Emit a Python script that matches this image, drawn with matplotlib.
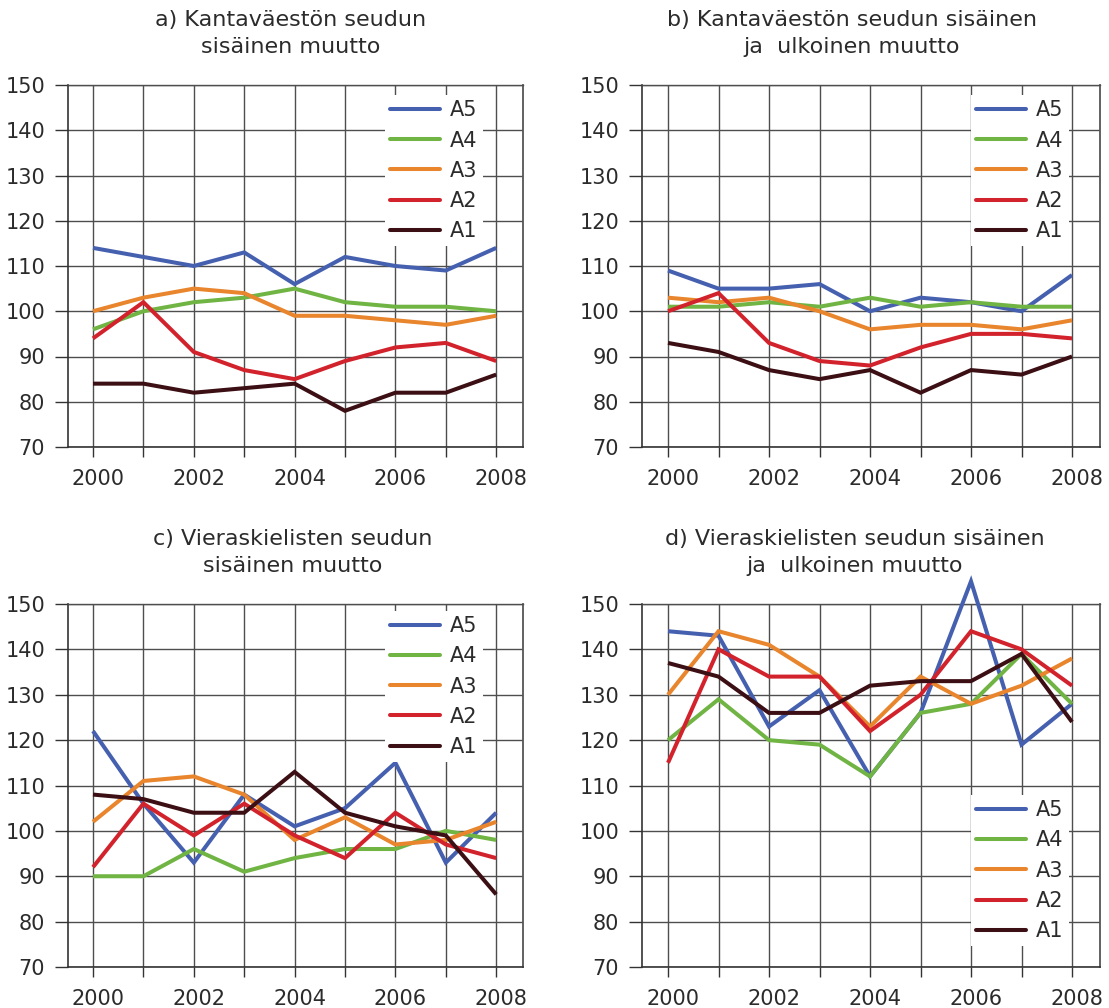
import matplotlib
matplotlib.use("Agg")
import matplotlib.pyplot as plt
import matplotlib.transforms as mtransforms

plt.rcParams['font.family'] = ['DejaVu Sans']

years = [2000, 2001, 2002, 2003, 2004, 2005, 2006, 2007, 2008]
series_names = ["A5", "A4", "A3", "A2", "A1"]
colors = ["#4660b0", "#70b444", "#e8852d", "#d2232d", "#3c0f14"]

titles = [
    "a) Kantaväestön seudun\nsisäinen muutto",
    "b) Kantaväestön seudun sisäinen\nja  ulkoinen muutto",
    "c) Vieraskielisten seudun\nsisäinen muutto",
    "d) Vieraskielisten seudun sisäinen\nja  ulkoinen muutto",
]

# Panel a
a_A5 = [114, 112, 110, 113, 106, 112, 110, 109, 114]
a_A4 = [96, 100, 102, 103, 105, 102, 101, 101, 100]
a_A3 = [100, 103, 105, 104, 99, 99, 98, 97, 99]
a_A2 = [94, 102, 91, 87, 85, 89, 92, 93, 89]
a_A1 = [84, 84, 82, 83, 84, 78, 82, 82, 86]

# Panel b
b_A5 = [109, 105, 105, 106, 100, 103, 102, 100, 108]
b_A4 = [101, 101, 102, 101, 103, 101, 102, 101, 101]
b_A3 = [103, 102, 103, 100, 96, 97, 97, 96, 98]
b_A2 = [100, 104, 93, 89, 88, 92, 95, 95, 94]
b_A1 = [93, 91, 87, 85, 87, 82, 87, 86, 90]

# Panel c
c_A5 = [122, 106, 93, 108, 101, 105, 115, 93, 104]
c_A4 = [90, 90, 96, 91, 94, 96, 96, 100, 98]
c_A3 = [102, 111, 112, 108, 98, 103, 97, 98, 102]
c_A2 = [92, 106, 99, 106, 99, 94, 104, 97, 94]
c_A1 = [108, 107, 104, 104, 113, 104, 101, 99, 86]

# Panel d
d_A5 = [144, 143, 123, 131, 112, 126, 155, 119, 128]
d_A4 = [120, 129, 120, 119, 112, 126, 128, 139, 128]
d_A3 = [130, 144, 141, 134, 123, 134, 128, 132, 138]
d_A2 = [115, 140, 134, 134, 122, 130, 144, 140, 132]
d_A1 = [137, 134, 126, 126, 132, 133, 133, 139, 124]

panels = [
    [a_A5, a_A4, a_A3, a_A2, a_A1],
    [b_A5, b_A4, b_A3, b_A2, b_A1],
    [c_A5, c_A4, c_A3, c_A2, c_A1],
    [d_A5, d_A4, d_A3, d_A2, d_A1],
]

yticks = [70, 80, 90, 100, 110, 120, 130, 140, 150]
xticklabels = [str(y) if y % 2 == 0 else "" for y in years]

W, H = 1109, 1008
fig = plt.figure(figsize=(W / 100, H / 100), dpi=100)

rects = [
    (68, 447, 455, 362),
    (642, 447, 458, 362),
    (68, 967, 455, 363),
    (642, 967, 458, 363),
]
xlims = [
    (1999.504, 2008.532),
    (1999.485, 2008.554),
    (1999.504, 2008.532),
    (1999.485, 2008.554),
]
title_x = [0.49, 0.458, 0.493, 0.465]
legend_locs = [
    dict(loc="upper right", bbox_to_anchor=(0.912, 0.972)),
    dict(loc="upper right", bbox_to_anchor=(0.932, 0.972)),
    dict(loc="upper right", bbox_to_anchor=(0.912, 0.981)),
    dict(loc="lower right", bbox_to_anchor=(0.932, 0.057)),
]

text_color = "#2b2b2b"
grid_color = "#4e4e4e"

for i, (left, bottom, w, h) in enumerate(rects):
    ax = fig.add_axes([left / W, (H - bottom) / H, w / W, h / H])
    for vals, name, col in zip(panels[i], series_names, colors):
        ax.plot(years, vals, color=col, lw=2.9, label=name, clip_on=False,
                solid_capstyle="butt", solid_joinstyle="miter", zorder=3)
    ax.set_xlim(*xlims[i])
    ax.set_ylim(70, 150)
    ax.set_yticks(yticks)
    ax.set_xticks(years)
    ax.set_xticklabels(xticklabels)
    ax.grid(True, color=grid_color, lw=1.0, zorder=0)
    ax.set_axisbelow(True)
    ax.tick_params(axis="y", direction="out", length=9.4, width=1.0,
                   color="#333333", pad=7.0, labelsize=15, labelcolor=text_color)
    ax.tick_params(axis="x", direction="out", length=7.2, width=1.0,
                   color="#333333", pad=8.4, labelsize=15, labelcolor=text_color)
    offset = mtransforms.ScaledTranslation(5 / 100, 0, fig.dpi_scale_trans)
    for lab in ax.get_xticklabels():
        lab.set_transform(lab.get_transform() + offset)
    for side in ["left", "bottom"]:
        ax.spines[side].set_color("#333333")
        ax.spines[side].set_linewidth(1.2)
    ax.spines["right"].set_color("#555555")
    ax.spines["right"].set_linewidth(1.3)
    ax.spines["top"].set_color(grid_color)
    ax.spines["top"].set_linewidth(1.0)

    leg = ax.legend(frameon=True, fancybox=False, framealpha=1.0,
                    facecolor="white", edgecolor="none", fontsize=15,
                    handlelength=2.4, handletextpad=0.5, labelspacing=0.49,
                    borderpad=0.25, borderaxespad=0.0, **legend_locs[i])
    for t in leg.get_texts():
        t.set_color(text_color)
    for ln in leg.get_lines():
        ln.set_solid_capstyle("round")
        ln.set_linewidth(2.9)
    leg.set_zorder(5)

    ax.text(title_x[i], 1 + 32 / h, titles[i], transform=ax.transAxes,
            ha="center", va="baseline", multialignment="center",
            fontsize=16, color=text_color, linespacing=1.45)

fig.savefig("out.png", dpi=100)
